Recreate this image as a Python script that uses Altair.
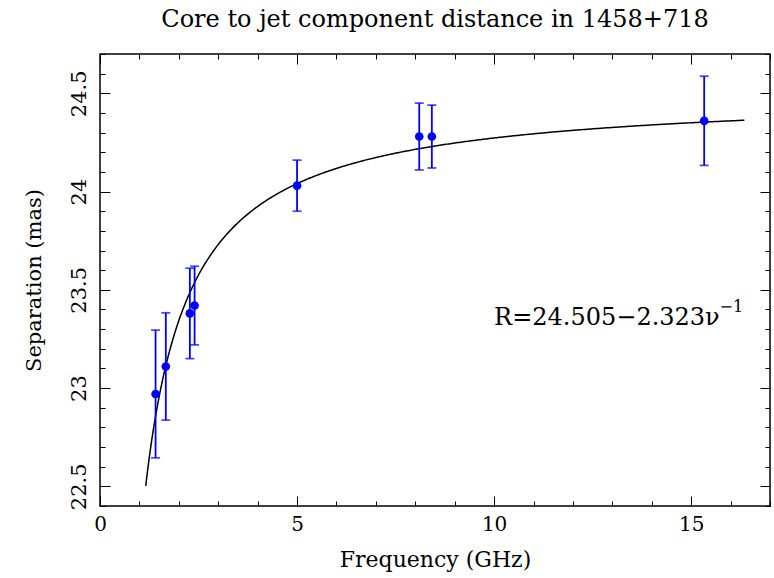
import altair as alt
import numpy as np
import pandas as pd

# Measured core-to-jet separations of 1458+718 at each observing frequency
freq_ghz = [1.41, 1.67, 2.28, 2.40, 5.00, 8.10, 8.42, 15.33]
separation_mas = [22.97, 23.11, 23.38, 23.42, 24.03, 24.28, 24.28, 24.36]
error_mas = [0.325, 0.273, 0.23, 0.20, 0.13, 0.17, 0.16, 0.227]

# Fitted model R = a - b / nu
fit_a = 24.505
fit_b = 2.323
fit_nu_min, fit_nu_max = 1.16, 16.35

x_major = [0, 5, 10, 15]
x_minor = list(range(0, 18))
y_major = [22.5, 23.0, 23.5, 24.0, 24.5]
y_minor = [round(v, 1) for v in np.arange(22.4, 24.75, 0.1)]

SERIF = "DejaVu Serif"
BLUE = "#0000ff"

pts = pd.DataFrame({
    "freq": freq_ghz,
    "sep": separation_mas,
    "lo": [s - e for s, e in zip(separation_mas, error_mas)],
    "hi": [s + e for s, e in zip(separation_mas, error_mas)],
})

nu = np.linspace(fit_nu_min, fit_nu_max, 400)
curve = pd.DataFrame({"nu": nu, "r": fit_a - fit_b / nu})

label_main = f"R={fit_a:.3f}\u2212{fit_b:.3f}\u03bd"
labels = pd.DataFrame({"x": [10.0], "y": [23.321], "t": [label_main]})
sup = pd.DataFrame({"x": [15.72], "y": [23.385], "t": ["\u22121"]})

xs = alt.Scale(domain=[0, 17], nice=False, zero=False)
ys = alt.Scale(domain=[22.4, 24.7], nice=False, zero=False)


def box_axis(orient, values, length, **kw):
    # ticks drawn inward from the frame, PGPLOT style
    opts = dict(orient=orient, values=values, tickSize=length, offset=-length,
                domain=False, grid=False, tickColor="black", tickWidth=1,
                labels=False, title=None)
    opts.update(kw)
    return alt.Axis(**opts)


bottom_major = box_axis(
    "bottom", x_major, 10, labels=True, title="Frequency (GHz)",
    labelFont=SERIF, labelFontSize=20, labelColor="black", labelPadding=8,
    labelFlush=False,
    titleFont=SERIF, titleFontSize=22, titleFontWeight="normal", titleColor="black",
    titlePadding=15, format="d")
bottom_minor = box_axis("bottom", x_minor, 5)
top_major = box_axis("top", x_major, 10)
top_minor = box_axis("top", x_minor, 5)

left_major = box_axis(
    "left", y_major, 10, labels=True, title="Separation (mas)",
    labelFont=SERIF, labelFontSize=21, labelColor="black", labelPadding=15,
    labelAngle=270, labelAlign="center", labelBaseline="alphabetic",
    labelFlush=False,
    titleFont=SERIF, titleFontSize=21, titleFontWeight="normal", titleColor="black",
    titlePadding=24, format="~g")
left_minor = box_axis("left", y_minor, 5)
right_major = box_axis("right", y_major, 10)
right_minor = box_axis("right", y_minor, 5)

fit_line = alt.Chart(curve).mark_line(color="black", strokeWidth=1.5).encode(
    x=alt.X("nu:Q", scale=xs, axis=bottom_major),
    y=alt.Y("r:Q", scale=ys, axis=left_major),
)

bars = alt.Chart(pts).mark_rule(color=BLUE, strokeWidth=1.8).encode(
    x=alt.X("freq:Q", scale=xs, axis=bottom_minor),
    y=alt.Y("lo:Q", scale=ys, axis=left_minor),
    y2="hi:Q",
)

caps_lo = alt.Chart(pts).mark_tick(color=BLUE, orient="horizontal", size=9, thickness=1.8).encode(
    x=alt.X("freq:Q", scale=xs, axis=top_major),
    y=alt.Y("lo:Q", scale=ys, axis=right_major),
)

caps_hi = alt.Chart(pts).mark_tick(color=BLUE, orient="horizontal", size=9, thickness=1.8).encode(
    x=alt.X("freq:Q", scale=xs, axis=top_minor),
    y=alt.Y("hi:Q", scale=ys, axis=right_minor),
)

dots = alt.Chart(pts).mark_circle(color=BLUE, opacity=1, size=75).encode(
    x=alt.X("freq:Q", scale=xs, axis=None),
    y=alt.Y("sep:Q", scale=ys, axis=None),
)

fit_text = alt.Chart(labels).mark_text(
    align="left", baseline="alphabetic", font=SERIF, fontSize=24, color="black"
).encode(
    x=alt.X("x:Q", scale=xs, axis=None),
    y=alt.Y("y:Q", scale=ys, axis=None),
    text="t:N",
)

sup_text = alt.Chart(sup).mark_text(
    align="left", baseline="alphabetic", font=SERIF, fontSize=16, color="black"
).encode(
    x=alt.X("x:Q", scale=xs, axis=None),
    y=alt.Y("y:Q", scale=ys, axis=None),
    text="t:N",
)

chart = alt.layer(
    fit_line, bars, caps_lo, caps_hi, dots, fit_text, sup_text
).resolve_axis(
    x="independent", y="independent"
).properties(
    width=670,
    height=452,
    title=alt.TitleParams(
        "Core to jet component distance in 1458+718",
        font=SERIF, fontSize=24, fontWeight="normal", color="black",
        anchor="middle", baseline="alphabetic", offset=3,
    ),
    autosize=alt.AutoSizeParams(type="none"),
    padding={"left": 100, "top": 54, "right": 4, "bottom": 72},
    background="white",
).configure_view(
    stroke="black", strokeWidth=1.5
)

chart.save("out.html", embed_options={"renderer": "svg", "actions": False})
